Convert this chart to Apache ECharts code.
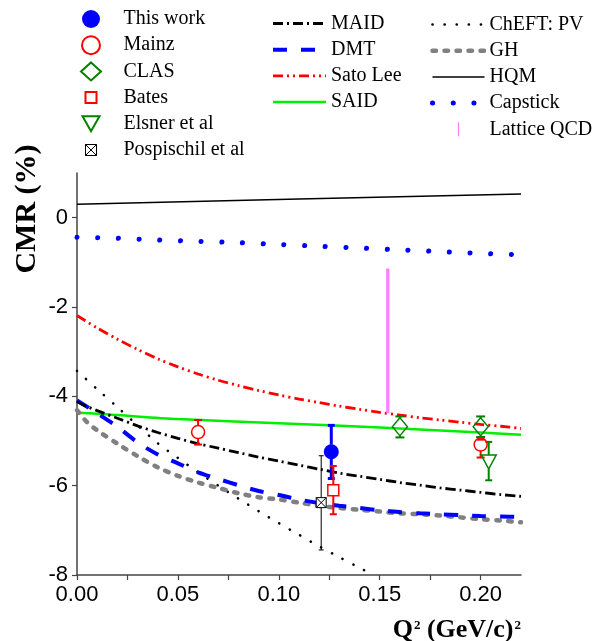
<!DOCTYPE html>
<html><head><meta charset="utf-8">
<script src="https://cdn.jsdelivr.net/npm/echarts@6/dist/echarts.min.js"></script>
<style>html,body{margin:0;padding:0;background:#fff}#c{width:604px;height:641px}</style>
</head><body><div id="c"></div>
<script>
// ---- tick labels ----
const xTickLabels = [0, 0.05, 0.10, 0.15, 0.20];
const xTicks = [0, 0.025, 0.05, 0.075, 0.10, 0.125, 0.15, 0.175, 0.20];
const yTickLabels = [-8, -6, -4, -2, 0];

// ---- data points: [Q2, CMR, upper, lower] ----
const thisWork   = [[0.126, -5.24, -4.65, -5.84]];
const mainz      = [[0.060, -4.80, -4.53, -5.08], [0.200, -5.08, -4.97, -5.37]];
const clas       = [[0.160, -4.68, -4.45, -4.92], [0.200, -4.68, -4.45, -4.91]];
const bates      = [[0.127, -6.10, -5.56, -6.64]];
const elsner     = [[0.204, -5.47, -5.02, -5.88]];
const pospischil = [[0.121, -6.38, -5.33, -7.44]];

// ---- model curves ----
const maidX = [0,0.005,0.01,0.02,0.03,0.04,0.05,0.06,0.07,0.08,0.09,0.10,0.11,0.12,0.13,0.14,0.15,0.16,0.17,0.18,0.19,0.20,0.21,0.22];
const maidY = [-4.12,-4.23,-4.32,-4.49,-4.66,-4.81,-4.94,-5.06,-5.16,-5.26,-5.36,-5.45,-5.54,-5.63,-5.72,-5.79,-5.86,-5.93,-5.99,-6.05,-6.10,-6.15,-6.20,-6.24];
const dmtX = [0,0.01,0.02,0.03,0.04,0.05,0.06,0.07,0.08,0.09,0.10,0.11,0.12,0.13,0.14,0.15,0.16,0.17,0.18,0.19,0.20,0.21,0.22];
const dmtY = [-4.09,-4.38,-4.68,-5.03,-5.30,-5.50,-5.70,-5.85,-5.99,-6.12,-6.21,-6.31,-6.39,-6.45,-6.50,-6.55,-6.59,-6.62,-6.64,-6.66,-6.68,-6.69,-6.70];
const satoX = [0,0.01,0.02,0.03,0.04,0.05,0.06,0.07,0.08,0.09,0.10,0.11,0.12,0.13,0.14,0.15,0.16,0.17,0.18,0.19,0.20,0.21,0.22];
const satoY = [-2.19,-2.47,-2.72,-2.95,-3.16,-3.34,-3.50,-3.64,-3.76,-3.87,-3.97,-4.06,-4.14,-4.22,-4.29,-4.36,-4.42,-4.48,-4.53,-4.58,-4.63,-4.67,-4.72];
const saidX = [0,0.01,0.02,0.05,0.10,0.15,0.20,0.22];
const saidY = [-4.37,-4.39,-4.42,-4.51,-4.60,-4.70,-4.81,-4.86];
const cheftX = [0,0.01,0.02,0.03,0.04,0.05,0.06,0.07,0.08,0.09,0.10,0.11,0.12,0.13,0.14,0.147];
const cheftY = [-3.43,-3.84,-4.24,-4.65,-5.05,-5.38,-5.70,-6.00,-6.29,-6.57,-6.84,-7.10,-7.36,-7.60,-7.84,-8.00];
const ghX = [0,0.005,0.01,0.02,0.03,0.04,0.05,0.06,0.07,0.08,0.09,0.10,0.11,0.12,0.13,0.14,0.15,0.16,0.17,0.18,0.19,0.20,0.21,0.22];
const ghY = [-4.31,-4.58,-4.76,-5.06,-5.34,-5.59,-5.78,-5.93,-6.05,-6.17,-6.26,-6.31,-6.38,-6.45,-6.50,-6.54,-6.58,-6.62,-6.64,-6.67,-6.71,-6.75,-6.78,-6.82];
const hqmX = [0, 0.11, 0.22];
const hqmY = [0.30, 0.42, 0.53];
const capX = [0,0.02,0.04,0.06,0.08,0.10,0.12,0.14,0.16,0.18,0.20,0.22];
const capY = [-0.44,-0.46,-0.50,-0.53,-0.56,-0.60,-0.64,-0.68,-0.72,-0.76,-0.80,-0.83];
const latticeX = [0.154, 0.154];
const latticeY = [-1.14, -4.38];

const pairs = (xs, ys) => xs.map((x, i) => [x, ys[i]]);
const SERIF = '"Liberation Serif", "Times New Roman", serif';
const SANS = '"Liberation Sans", Arial, sans-serif';

function lineS(name, xs, ys, color, width, type, cap, smooth) {
  return {
    type: 'line', name, data: pairs(xs, ys), symbol: 'none', smooth: smooth,
    color: color, z: 2, silent: true, animation: false,
    lineStyle: { color, width, type, cap: cap || 'butt' }
  };
}

function errS(name, data, color, width, capW, gap) {
  return {
    type: 'custom', name, data, z: 3, silent: true, animation: false,
    encode: { x: 0, y: 1 },
    renderItem: function (params, api) {
      const x = api.value(0), y = api.value(1), hi = api.value(2), lo = api.value(3);
      const c = api.coord([x, y]), ph = api.coord([x, hi]), pl = api.coord([x, lo]);
      const st = { stroke: color, lineWidth: width };
      const h = capW / 2;
      const ch = [];
      if (ph[1] < c[1] - gap) ch.push({ type: 'line', shape: { x1: c[0], y1: c[1] - gap, x2: c[0], y2: ph[1] }, style: st });
      ch.push({ type: 'line', shape: { x1: c[0] - h, y1: ph[1], x2: c[0] + h, y2: ph[1] }, style: st });
      if (pl[1] > c[1] + gap) ch.push({ type: 'line', shape: { x1: c[0], y1: c[1] + gap, x2: c[0], y2: pl[1] }, style: st });
      ch.push({ type: 'line', shape: { x1: c[0] - h, y1: pl[1], x2: c[0] + h, y2: pl[1] }, style: st });
      return { type: 'group', children: ch };
    }
  };
}

function ptS(name, data, symbol, size, fill, border, bw) {
  return {
    type: 'scatter', name, data: data.map(d => [d[0], d[1]]), symbol, symbolSize: size,
    z: 4, silent: true, animation: false,
    itemStyle: { color: fill, borderColor: border, borderWidth: bw, opacity: 1 }
  };
}

const TRANS = 'rgba(255,255,255,0)';
const triDown = 'path://M0,0L17,0L8.5,15Z';
const xBox = 'path://M0,0L10,0L10,10L0,10Z M0,0L10,10 M10,0L0,10';

const series = [
  lineS('HQM', hqmX, hqmY, '#000000', 1.5, 'solid', 'butt', false),
  lineS('Capstick', capX, capY, '#0000ff', 5, [0.1, 20.6], 'round', 0.3),
  lineS('Sato Lee', satoX, satoY, '#ff0000', 2.8, [10, 4, 2, 4, 2, 4], 'butt', 0.3),
  lineS('SAID', saidX, saidY, '#00ee00', 2.5, 'solid', 'butt', 0.3),
  lineS('ChEFT: PV', cheftX, cheftY, '#000000', 2.6, [0.1, 12], 'round', 0.3),
  lineS('GH', ghX, ghY, '#808080', 4.5, [3.5, 8.5], 'round', 0.3),
  lineS('DMT', dmtX, dmtY, '#0000ff', 4, [14, 14], 'butt', 0.3),
  lineS('MAID', maidX, maidY, '#000000', 2.8, [10, 4, 2, 4], 'butt', 0.3),
  lineS('Lattice QCD', latticeX, latticeY, '#ff80ff', 3.3, 'solid', 'butt', false),
  errS('e1', thisWork, '#0000ff', 3, 7, 7),
  errS('e2', mainz, '#ff0000', 2, 8, 6.5),
  errS('e3', clas, '#008000', 2, 9, 9),
  errS('e4', bates, '#ff0000', 2, 7, 5.5),
  errS('e5', elsner, '#008000', 2, 7, 7),
  errS('e6', pospischil, '#000000', 1, 5, 5),
  ptS('This work', thisWork, 'circle', 15, '#0000ff', '#0000ff', 0),
  ptS('Mainz', mainz, 'circle', 13, TRANS, '#ff0000', 1.5),
  ptS('CLAS', clas, 'diamond', [15, 18], TRANS, '#008000', 1.5),
  ptS('Bates', bates, 'rect', 11, TRANS, '#ff0000', 1.5),
  ptS('Elsner et al', elsner, triDown, [15, 14], TRANS, '#008000', 1.5),
  ptS('Pospischil et al', pospischil, xBox, 10, '#ffffff', '#000000', 1)
];

const legText = { fontFamily: SERIF, fontSize: 20, color: '#000', lineHeight: 20 };
const legendCommon = { orient: 'vertical', selectedMode: false, itemGap: 6.2, textStyle: legText, padding: 0,
  lineStyle: { width: 'inherit' } };

const option = {
  animation: false,
  backgroundColor: '#fff',
  grid: { left: 77, right: 83, top: 173, bottom: 66, containLabel: false, outerBoundsMode: 'none' },
  xAxis: {
    type: 'value', min: 0, max: 0.22, interval: 0.05,
    splitLine: { show: false },
    axisLine: { show: true, onZero: false, lineStyle: { color: '#444', width: 1.5 } },
    axisTick: { show: true, inside: false, length: 5, customValues: xTicks, lineStyle: { color: '#444', width: 1.2 } },
    axisLabel: { customValues: xTickLabels, formatter: v => v.toFixed(2), margin: 9, fontSize: 22, fontFamily: SANS, color: '#000' }
  },
  yAxis: {
    type: 'value', min: -8, max: 1, interval: 1,
    splitLine: { show: false },
    axisLine: { show: true, onZero: false, lineStyle: { color: '#444', width: 1.5 } },
    axisTick: { show: true, inside: false, length: 5, customValues: yTickLabels, lineStyle: { color: '#444', width: 1.2 } },
    axisLabel: { customValues: yTickLabels, formatter: v => String(v), margin: 9, fontSize: 22, fontFamily: SANS, color: '#000' }
  },
  legend: [
    Object.assign({}, legendCommon, {
      left: 80, top: 9, itemWidth: 55, itemHeight: 18,
      data: [
        { name: 'This work', icon: 'circle' },
        { name: 'Mainz', icon: 'circle' },
        { name: 'CLAS', icon: 'path://M10,0L20,9L10,18L0,9Z' },
        { name: 'Bates', icon: 'path://M0,0M18,18M3.5,3.5L14.5,3.5L14.5,14.5L3.5,14.5Z' },
        { name: 'Elsner et al', icon: 'path://M0,0M17,18M0,1.5L17,1.5L8.5,16.5Z' },
        { name: 'Pospischil et al', icon: 'path://M0,0M18,18M3.5,3.5L14.5,3.5L14.5,14.5L3.5,14.5Z M3.5,3.5L14.5,14.5 M14.5,3.5L3.5,14.5', itemStyle: { borderWidth: 1 } }
      ]
    }),
    Object.assign({}, legendCommon, {
      left: 271, top: 13.5, itemWidth: 53, itemHeight: 14,
      itemStyle: { opacity: 0 },
      data: ['MAID', 'DMT', 'Sato Lee', 'SAID']
    }),
    Object.assign({}, legendCommon, {
      left: 430, top: 14.5, itemWidth: 52, itemHeight: 14,
      itemStyle: { opacity: 0 },
      data: ['ChEFT: PV', 'GH', 'HQM', 'Capstick',
        { name: 'Lattice QCD', icon: 'path://M0,0M10,16M4.3,0L5.7,0L5.7,16L4.3,16Z', itemStyle: { opacity: 1 } }]
    })
  ],
  graphic: [
    { type: 'text', x: 27, y: 209, rotation: Math.PI / 2, silent: true,
      style: { text: 'CMR (%)', fontFamily: SERIF, fontWeight: 'bold', fontSize: 30, fill: '#000', align: 'center', verticalAlign: 'middle' } },
    { type: 'text', x: 521, y: 630, silent: true,
      style: { text: '{a|Q}{s|2}{a| (GeV/c)}{s|2}', align: 'right', verticalAlign: 'middle', fill: '#000',
        rich: {
          a: { fontFamily: SERIF, fontWeight: 'bold', fontSize: 26, lineHeight: 26 },
          s: { fontFamily: SERIF, fontWeight: 'bold', fontSize: 13, lineHeight: 13, verticalAlign: 'top', padding: [2, 0, 0, 1] }
        } } }
  ],
  series: series
};

const chart = echarts.init(document.getElementById('c'), null, { renderer: 'canvas' });
chart.setOption(option);
</script>
</body></html>
